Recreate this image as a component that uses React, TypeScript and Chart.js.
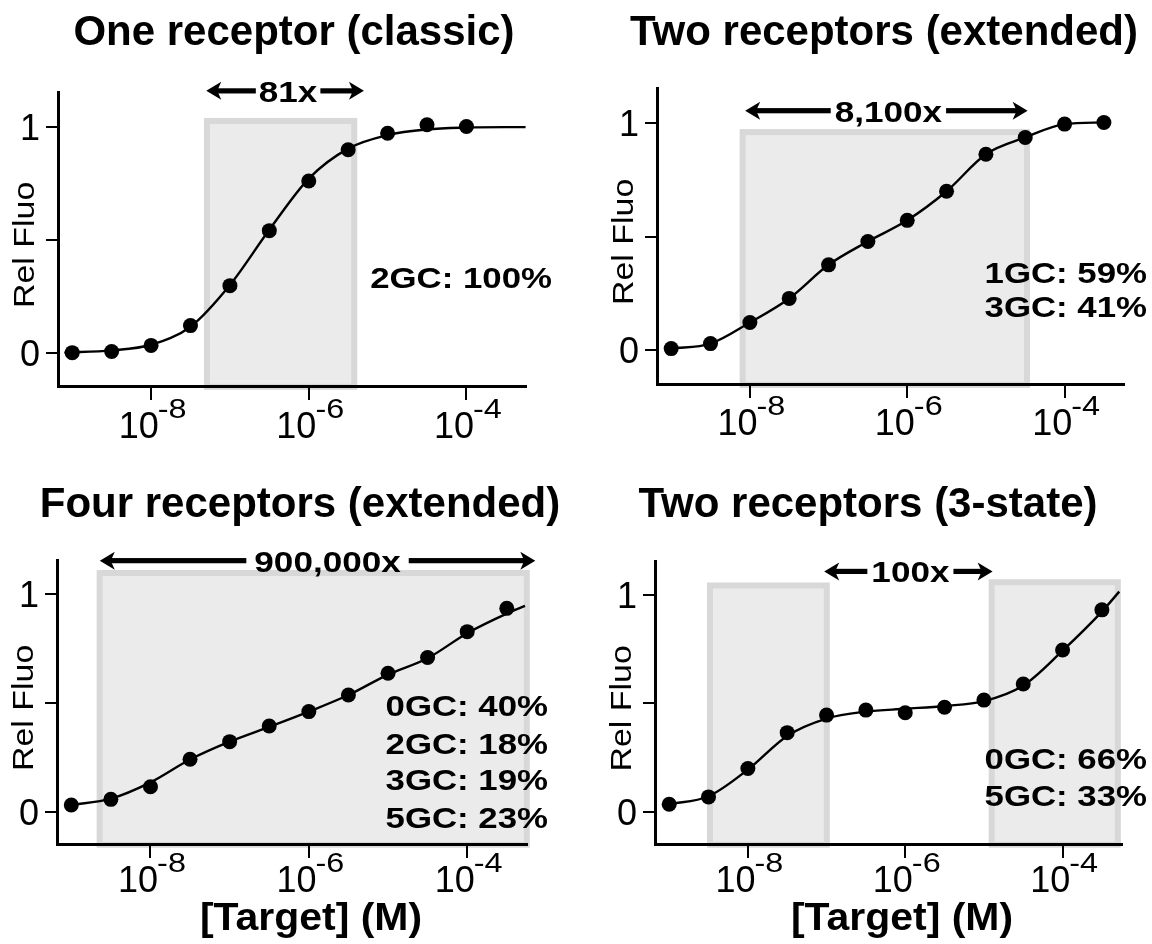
import React, { useEffect, useRef } from 'react';
import { Chart, registerables } from 'chart.js';

Chart.register(...registerables);

const FONT = '"Liberation Sans", Arial, Helvetica, sans-serif';

// ---------- data ----------
const concHalfDecade11 = [1e-9, 3.16e-9, 1e-8, 3.16e-8, 1e-7, 3.16e-7, 1e-6, 3.16e-6, 1e-5, 3.16e-5, 1e-4];
const concHalfDecade12 = [1e-9, 3.16e-9, 1e-8, 3.16e-8, 1e-7, 3.16e-7, 1e-6, 3.16e-6, 1e-5, 3.16e-5, 1e-4, 3.16e-4];

// Panel 1: One receptor (classic)
const p1Fluo = [0.0, 0.005, 0.032, 0.12, 0.297, 0.541, 0.761, 0.9, 0.973, 1.011, 1.003];
const p1FitConc = [7.94e-10, 3.16e-9, 1e-8, 3.16e-8, 1e-7, 3.16e-7, 1e-6, 3.16e-6, 1e-5, 3.16e-5, 1e-4, 3.16e-4, 5.62e-4];
const p1FitFluo = [0.0, 0.01, 0.035, 0.115, 0.3, 0.545, 0.772, 0.905, 0.965, 0.99, 0.998, 1.0, 1.0];

// Panel 2: Two receptors (extended)
const p2Fluo = [0.008, 0.03, 0.123, 0.229, 0.377, 0.48, 0.573, 0.701, 0.864, 0.938, 0.997, 1.004];

// Panel 3: Four receptors (extended)
const p3Fluo = [0.031, 0.057, 0.115, 0.241, 0.322, 0.394, 0.46, 0.536, 0.636, 0.708, 0.827, 0.934];
const p3FitConc = [1e-9, 3.16e-9, 1e-8, 3.16e-8, 1e-7, 3.16e-7, 1e-6, 3.16e-6, 1e-5, 3.16e-5, 1e-4, 3.16e-4, 5.37e-4];
const p3FitFluo = [0.031, 0.06, 0.135, 0.24, 0.322, 0.39, 0.46, 0.536, 0.63, 0.705, 0.82, 0.91, 0.945];

// Panel 4: Two receptors (3-state)
const p4Fluo = [0.035, 0.069, 0.2, 0.365, 0.446, 0.469, 0.457, 0.482, 0.515, 0.589, 0.746, 0.931];
const p4FitConc = [1e-9, 3.16e-9, 1e-8, 3.16e-8, 1e-7, 3.16e-7, 1e-6, 3.16e-6, 1e-5, 3.16e-5, 1e-4, 3.16e-4, 5.25e-4];
const p4FitFluo = [0.035, 0.072, 0.195, 0.35, 0.43, 0.462, 0.475, 0.488, 0.51, 0.582, 0.743, 0.923, 1.015];

// shaded windows: [from conc, to conc, top fluo]
const p1Shades = [[4.68e-8, 4.12e-6, 1.041]];
const p2Shades = [[7.41e-9, 3.63e-5, 0.975]];
const p3Shades = [[2.09e-9, 6.17e-4, 1.11]];
const p4Shades = [[3.02e-9, 1.1e-7, 1.057], [1.15e-5, 5.5e-4, 1.072]];

// range arrows: [from conc, to conc, fluo level]
const p1Arrow = [5.01e-8, 5.01e-6, 1.161];
const p2Arrow = [8.71e-9, 3.39e-5, 1.056];
const p3Arrow = [2.29e-9, 7.24e-4, 1.153];
const p4Arrow = [9.33e-8, 1.29e-5, 1.108];

const titles = ['One receptor (classic)', 'Two receptors (extended)', 'Four receptors (extended)', 'Two receptors (3-state)'];
const arrowLabels = ['81x', '8,100x', '900,000x', '100x'];
const p1Notes = ['2GC: 100%'];
const p2Notes = ['1GC: 59%', '3GC: 41%'];
const p3Notes = ['0GC: 40%', '2GC: 18%', '3GC: 19%', '5GC: 23%'];
const p4Notes = ['0GC: 66%', '5GC: 33%'];

const xTickValues = [1e-8, 1e-6, 1e-4];
const xTickExponents = ['-8', '-6', '-4'];
const yTickValues = [0, 0.5, 1];
const yTickLabels = ['0', '', '1'];
const yAxisTitle = 'Rel Fluo';
const xAxisTitle = '[Target] (M)';

const X_MIN = 6.6e-10;
const X_MAX = 5.69e-4;
const Y_MIN = -0.148;
const Y_MAX = 1.156;
const SHADE_BOTTOM = -0.165;

const W = 576;
const H = 472;

type PanelDef = {
  left: number; top: number;
  area: { l: number; r: number; t: number; b: number };
  title: string; titleX: number;
  conc: number[]; fluo: number[];
  fitConc?: number[]; fitFluo?: number[];
  connect?: boolean;
  shades: number[][];
  arrow: number[]; arrowLabel: string; arrowGap: number; arrowShift: number;
  notes: string[]; notesRight: number; notesBaselines: number[];
  tickBase: number;
  xTitleX?: number;
};

const panels: PanelDef[] = [
  {
    left: 0, top: 0, area: { l: 58, r: 526, t: 92, b: 386 },
    title: titles[0], titleX: 294,
    conc: concHalfDecade11, fluo: p1Fluo, fitConc: p1FitConc, fitFluo: p1FitFluo,
    shades: p1Shades, arrow: p1Arrow, arrowLabel: arrowLabels[0], arrowGap: 3, arrowShift: 3,
    notes: p1Notes, notesRight: 552, notesBaselines: [287], tickBase: 52,
  },
  {
    left: 576, top: 0, area: { l: 81, r: 548, t: 88, b: 384 },
    title: titles[1], titleX: 308,
    conc: concHalfDecade12, fluo: p2Fluo, connect: true,
    shades: p2Shades, arrow: p2Arrow, arrowLabel: arrowLabels[1], arrowGap: 4, arrowShift: 2,
    notes: p2Notes, notesRight: 571, notesBaselines: [282, 316], tickBase: 51,
  },
  {
    left: 0, top: 472, area: { l: 57, r: 527, t: 88, b: 372 },
    title: titles[2], titleX: 300,
    conc: concHalfDecade12, fluo: p3Fluo, fitConc: p3FitConc, fitFluo: p3FitFluo,
    shades: p3Shades, arrow: p3Arrow, arrowLabel: arrowLabels[2], arrowGap: 8, arrowShift: 10,
    notes: p3Notes, notesRight: 548, notesBaselines: [243, 281, 317, 355], tickBase: 48,
    xTitleX: 311,
  },
  {
    left: 576, top: 472, area: { l: 79, r: 546, t: 89, b: 372 },
    title: titles[3], titleX: 292,
    conc: concHalfDecade12, fluo: p4Fluo, fitConc: p4FitConc, fitFluo: p4FitFluo,
    shades: p4Shades, arrow: p4Arrow, arrowLabel: arrowLabels[3], arrowGap: 4, arrowShift: 2,
    notes: p4Notes, notesRight: 571, notesBaselines: [296, 333], tickBase: 48,
    xTitleX: 326,
  },
];

// ---------- drawing helpers ----------
function drawText(ctx: CanvasRenderingContext2D, text: string, x: number, y: number, size: number, bold: boolean, align: 'left' | 'center' | 'right', sx = 1) {
  ctx.save();
  ctx.font = `${bold ? 'bold ' : ''}${size}px ${FONT}`;
  ctx.fillStyle = '#000';
  ctx.textBaseline = 'alphabetic';
  ctx.textAlign = 'left';
  const w = ctx.measureText(text).width * sx;
  const x0 = align === 'center' ? x - w / 2 : align === 'right' ? x - w : x;
  ctx.translate(x0, y);
  ctx.scale(sx, 1);
  ctx.fillText(text, 0, 0);
  ctx.restore();
  return w;
}

function measure(ctx: CanvasRenderingContext2D, text: string, size: number, bold: boolean, sx = 1) {
  ctx.save();
  ctx.font = `${bold ? 'bold ' : ''}${size}px ${FONT}`;
  const w = ctx.measureText(text).width * sx;
  ctx.restore();
  return w;
}

function arrowHead(ctx: CanvasRenderingContext2D, tipX: number, y: number, dir: number) {
  const len = 15, half = 9, notch = 4;
  ctx.beginPath();
  ctx.moveTo(tipX, y);
  ctx.lineTo(tipX + dir * len, y - half);
  ctx.lineTo(tipX + dir * (len - notch), y);
  ctx.lineTo(tipX + dir * len, y + half);
  ctx.closePath();
  ctx.fill();
}

const LABEL_SIZE = 30;
const LABEL_SX = 1.17;
const NOTE_SIZE = 30;
const NOTE_SX = 1.16;
const TITLE_SIZE = 42;

function makeDecor(p: PanelDef) {
  return {
    id: 'decor',
    beforeDraw(chart: any) {
      const { ctx } = chart;
      const xs = chart.scales.x, ys = chart.scales.y;
      ctx.save();
      p.shades.forEach(([lo, hi, top]) => {
        const x1 = xs.getPixelForValue(lo), x2 = xs.getPixelForValue(hi);
        const y1 = ys.getPixelForValue(top), y2 = ys.getPixelForValue(SHADE_BOTTOM);
        ctx.fillStyle = '#d8d8d8';
        ctx.fillRect(x1, y1, x2 - x1, y2 - y1);
        ctx.fillStyle = '#ebebeb';
        ctx.fillRect(x1 + 6, y1 + 6, x2 - x1 - 12, y2 - y1 - 12);
      });
      ctx.restore();
    },
    afterDraw(chart: any) {
      const { ctx } = chart;
      const xs = chart.scales.x, ys = chart.scales.y;
      const area = chart.chartArea;

      // title
      drawText(ctx, p.title, p.titleX, 45, TITLE_SIZE, true, 'center');

      // arrow
      const [a0, a1, ay] = p.arrow;
      const x1 = xs.getPixelForValue(a0), x2 = xs.getPixelForValue(a1);
      const y = ys.getPixelForValue(ay);
      const lw = measure(ctx, p.arrowLabel, LABEL_SIZE, true, LABEL_SX);
      const cx = (x1 + x2) / 2 + p.arrowShift;
      const g1 = cx - lw / 2 - p.arrowGap, g2 = cx + lw / 2 + p.arrowGap;
      ctx.save();
      ctx.fillStyle = '#000';
      ctx.fillRect(x1 + 9, y - 2.6, g1 - (x1 + 9), 5.2);
      ctx.fillRect(g2, y - 2.6, (x2 - 9) - g2, 5.2);
      arrowHead(ctx, x1, y, 1);
      arrowHead(ctx, x2, y, -1);
      ctx.restore();
      drawText(ctx, p.arrowLabel, cx, y + 11, LABEL_SIZE, true, 'center', LABEL_SX);

      // notes
      p.notes.forEach((n, i) => drawText(ctx, n, p.notesRight, p.notesBaselines[i] + 1, NOTE_SIZE, true, 'right', NOTE_SX));

      // x tick labels 10^n
      xTickValues.forEach((v, i) => {
        const px = xs.getPixelForValue(v);
        const w10 = measure(ctx, '10', 36, false);
        const wExp = measure(ctx, xTickExponents[i], 27, false, 1.2);
        const start = px + 2 - (w10 + wExp) / 2;
        const base = area.bottom + p.tickBase;
        drawText(ctx, '10', start, base, 36, false, 'left');
        drawText(ctx, xTickExponents[i], start + w10 - 1, base - 20, 27, false, 'left', 1.2);
      });

      // y axis title (rotated)
      ctx.save();
      ctx.font = `29px ${FONT}`;
      ctx.fillStyle = '#000';
      ctx.textAlign = 'center';
      ctx.textBaseline = 'alphabetic';
      ctx.translate(area.left - 24, ys.getPixelForValue(0.5) + 5);
      ctx.rotate(-Math.PI / 2);
      ctx.scale(1.17, 1);
      ctx.fillText(yAxisTitle, 0, 0);
      ctx.restore();

      // x axis title
      if (p.xTitleX !== undefined) {
        drawText(ctx, xAxisTitle, p.xTitleX, 458, 39, true, 'center', 1.05);
      }
    },
  };
}

function makeConfig(p: PanelDef): any {
  const datasets: any[] = [];
  if (p.fitConc && p.fitFluo) {
    datasets.push({
      data: p.fitConc.map((c, i) => ({ x: c, y: p.fitFluo![i] })),
      borderColor: '#000', borderWidth: 2.4, pointRadius: 0,
      cubicInterpolationMode: 'monotone', fill: false, clip: false,
    });
  }
  datasets.push({
    data: p.conc.map((c, i) => ({ x: c, y: p.fluo[i] })),
    showLine: !!p.connect,
    borderColor: '#000', borderWidth: 2.4,
    pointRadius: 7.5, pointBackgroundColor: '#000', pointBorderColor: '#000', pointBorderWidth: 0,
    cubicInterpolationMode: 'monotone', fill: false, clip: false,
  });
  return {
    type: 'line',
    data: { datasets },
    options: {
      responsive: false,
      animation: false,
      events: [],
      layout: { padding: { left: 0, top: p.area.t, right: W - p.area.r, bottom: 0 } },
      plugins: { legend: { display: false }, title: { display: false }, tooltip: { enabled: false } },
      scales: {
        x: {
          type: 'logarithmic', min: X_MIN, max: X_MAX,
          afterFit: (s: any) => { s.height = H - p.area.b; },
          afterBuildTicks: (s: any) => { s.ticks = xTickValues.map((v) => ({ value: v })); },
          ticks: { display: false },
          grid: { drawOnChartArea: false, drawTicks: true, tickLength: 14, lineWidth: 2, color: '#000' },
          border: { display: true, width: 3, color: '#000' },
        },
        y: {
          type: 'linear', min: Y_MIN, max: Y_MAX,
          afterFit: (s: any) => { s.width = p.area.l; },
          afterBuildTicks: (s: any) => { s.ticks = yTickValues.map((v) => ({ value: v })); },
          ticks: {
            callback: (v: number) => { const i = yTickValues.indexOf(v); return i >= 0 ? yTickLabels[i] : ''; },
            font: { family: FONT, size: 36 }, color: '#000', padding: 6, labelOffset: 3,
          },
          grid: { drawOnChartArea: false, drawTicks: true, tickLength: 12, lineWidth: 2, color: '#000' },
          border: { display: true, width: 3, color: '#000' },
        },
      },
    },
    plugins: [makeDecor(p)],
  };
}

function Panel({ p }: { p: PanelDef }) {
  const ref = useRef<HTMLCanvasElement>(null);
  useEffect(() => {
    const chart = new Chart(ref.current as HTMLCanvasElement, makeConfig(p));
    return () => chart.destroy();
  }, [p]);
  return (
    <canvas
      ref={ref}
      width={W}
      height={H}
      style={{ position: 'absolute', left: p.left, top: p.top, width: W, height: H }}
    />
  );
}

export default function App() {
  return (
    <div style={{ position: 'fixed', left: 0, top: 0, width: 1152, height: 944, background: '#fff', overflow: 'hidden' }}>
      {panels.map((p, i) => <Panel key={i} p={p} />)}
    </div>
  );
}
